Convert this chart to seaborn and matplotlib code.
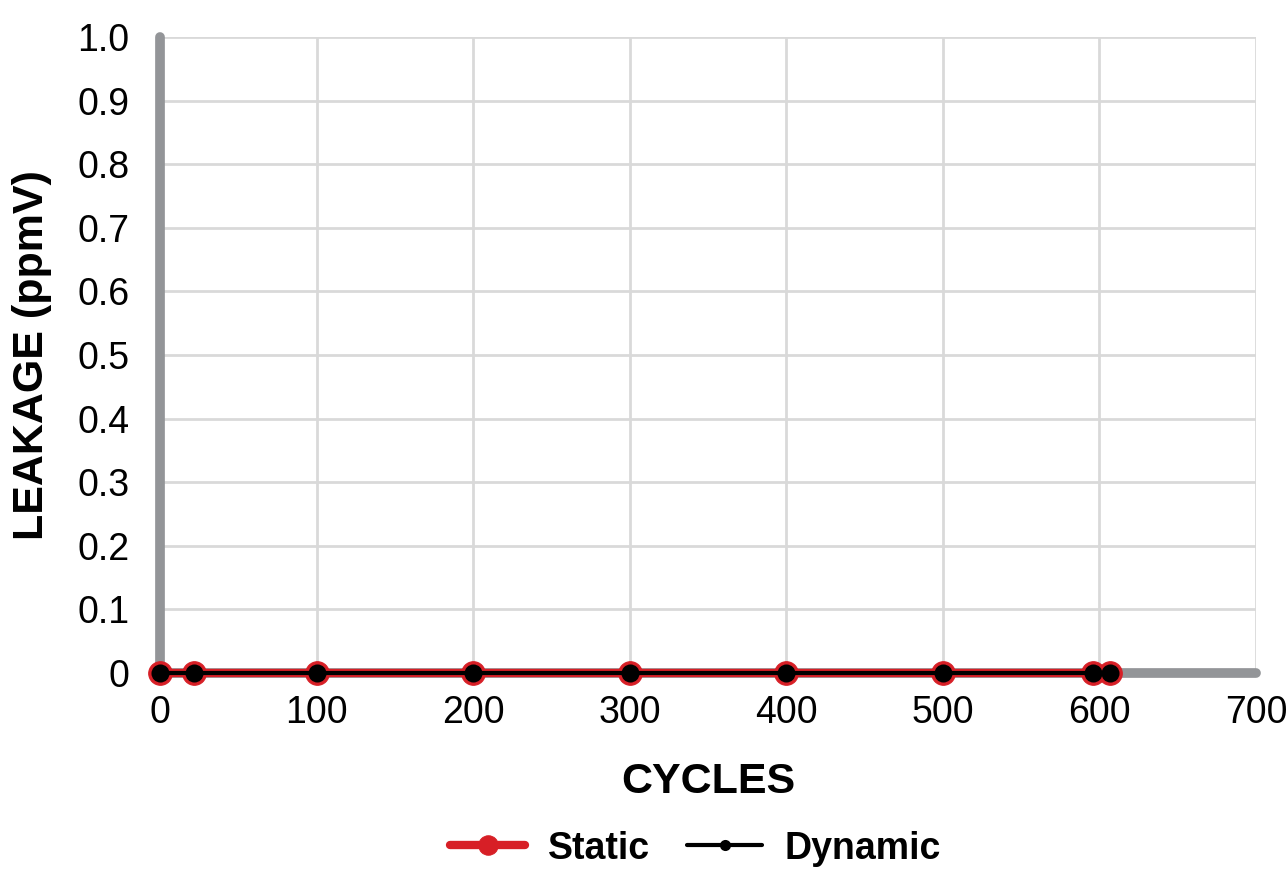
import pandas as pd
import matplotlib.pyplot as plt
import seaborn as sns

sns.set_theme(style='whitegrid')
plt.rcParams['font.family'] = ['Liberation Sans', 'DejaVu Sans']
plt.rcParams['text.color'] = 'black'

# data
cycles = [0, 22, 100, 200, 300, 400, 500, 596, 607]
static_leak = [0, 0, 0, 0, 0, 0, 0, 0, 0]
dynamic_leak = [0, 0, 0, 0, 0, 0, 0, 0, 0]
y_ticks = [0, 0.1, 0.2, 0.3, 0.4, 0.5, 0.6, 0.7, 0.8, 0.9, 1.0]
y_labels = ['0', '0.1', '0.2', '0.3', '0.4', '0.5', '0.6', '0.7', '0.8', '0.9', '1.0']
x_ticks = [0, 100, 200, 300, 400, 500, 600, 700]

df = pd.DataFrame({'Cycles': cycles, 'Static': static_leak, 'Dynamic': dynamic_leak})

fig = plt.figure(figsize=(12.88, 8.73), dpi=100)
ax = fig.add_axes([0.1242, 0.2291, 0.8510, 0.7285])

# static: thick red line, dynamic: thin black line on top
sns.lineplot(data=df, x='Cycles', y='Static', ax=ax, color='#d71f26', linewidth=6,
             marker='o', markersize=17, markeredgecolor='#d71f26', label='Static', clip_on=False, zorder=3)
sns.lineplot(data=df, x='Cycles', y='Dynamic', ax=ax, color='black', linewidth=3,
             marker='o', markersize=13, markeredgewidth=0, label='Dynamic', clip_on=False, zorder=4)

ax.set_xlim(0, 700)
ax.set_ylim(0, 1.0)
ax.set_xticks(x_ticks)
ax.set_yticks(y_ticks)
ax.set_yticklabels(y_labels)
ax.tick_params(axis='both', labelsize=27, colors='black', length=0)
ax.tick_params(axis='x', pad=16)
ax.tick_params(axis='y', pad=22)
ax.grid(True, color='#d9d9d9', linewidth=2)

for s in ['top', 'right']:
    ax.spines[s].set_visible(False)
for s in ['left', 'bottom']:
    ax.spines[s].set_color('#939598')
    ax.spines[s].set_linewidth(7)
    ax.spines[s].set_capstyle('round')

ax.set_xlabel('CYCLES', fontsize=31, fontweight='bold', labelpad=22, color='black')
ax.set_ylabel('LEAKAGE (ppmV)', fontsize=31, fontweight='bold', labelpad=18, color='black')

leg = ax.legend(loc='center', bbox_to_anchor=(0.54, 0.028), bbox_transform=fig.transFigure,
                ncol=2, frameon=False, prop={'size': 27, 'weight': 'bold'},
                handlelength=2.0, handletextpad=0.6, columnspacing=1.0)
for t in leg.get_texts():
    t.set_color('black')
leg.legend_handles[0].set_markersize(14)
leg.legend_handles[1].set_markersize(8)

fig.savefig('out.png', dpi=100)
